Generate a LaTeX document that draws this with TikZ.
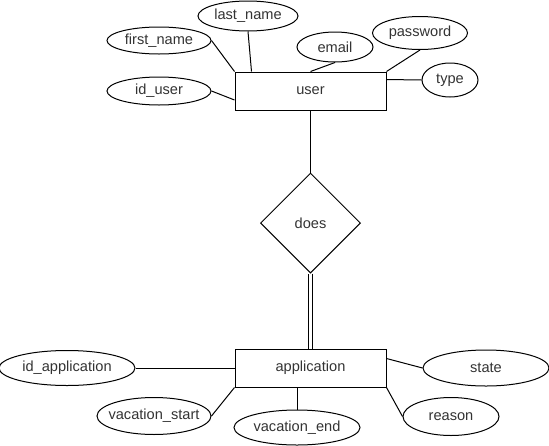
\documentclass[tikz,border=0pt]{standalone}
\usepackage{fontspec}
\setmainfont{Liberation Sans}
\usetikzlibrary{positioning,shapes.geometric}

\begin{document}
\begin{tikzpicture}[
    x=1pt,
    y=-1pt,
    font=\fontsize{14.6}{17}\selectfont,
    line width=1pt,
    entity/.style={
        draw,
        text=black!80,
        minimum width=151pt,
        minimum height=38pt,
        inner sep=0pt
    },
    relation/.style={
        draw,
        diamond,
        text=black!80,
        minimum width=100pt,
        minimum height=100pt,
        inner sep=0pt
    },
    attr/.style={
        draw,
        ellipse,
        text=black!80,
        inner sep=0pt
    }
]
\useasboundingbox (0,0) rectangle (549,445);

\node[entity] (user) at (310.5,91) {user};
\node[relation, below=62pt of user] (does) {does};
\node[entity, below=75pt of does] (application) {application};

% attributes of user
\node[attr, minimum width=104pt, minimum height=28pt, left=23pt of user] (id_user) {\makebox[0pt]{id\_user}};
\node[attr, minimum width=104pt, minimum height=27pt, above=22pt of id_user] (first_name) {\makebox[0pt]{first\_name}};
\node[attr, minimum width=100pt, minimum height=30pt] (last_name) at (248,16) {\makebox[0pt]{last\_name}};
\node[attr, minimum width=76pt, minimum height=30pt] (email) at (335,47) {\makebox[0pt]{email}};
\node[attr, minimum width=95pt, minimum height=33pt] (password) at (420,33) {\makebox[0pt]{password}};
\node[attr, minimum width=56pt, minimum height=34pt] (type) at (450,80) {\makebox[0pt]{type}};

% attributes of application
\node[attr, minimum width=136pt, minimum height=35pt, left=99pt of application] (id_application) {\makebox[0pt]{id\_application}};
\node[attr, minimum width=126pt, minimum height=36pt, right=36pt of application] (state) {\makebox[0pt]{state}};
\node[attr, minimum width=114pt, minimum height=37pt] (vacation_start) at (154,416) {\makebox[0pt]{vacation\_start}};
\node[attr, minimum width=126pt, minimum height=35pt] (vacation_end) at (297,427.5) {\makebox[0pt]{vacation\_end}};
\node[attr, minimum width=96pt, minimum height=38pt] (reason) at (451,416.5) {\makebox[0pt]{reason}};

% user links
\draw (first_name.east) -- (user.north west);
\draw (last_name.south) -- ([xshift=17pt]user.north west);
\draw (email.south) -- (user.north);
\draw (password.south) -- (user.north east);
\draw (type.west) -- ([yshift=-8pt]user.north east);
\draw (id_user.east) -- ([yshift=-9pt]user.west);

% relationship
\draw (user) -- (does);
\draw[double, double distance=2.5pt] (does) -- (application);

% application links
\draw (id_application) -- (application);
\draw (vacation_start.east) -- (application.south west);
\draw (vacation_end.north) -- (vacation_end.north |- application.south);
\draw (state.west) -- ([yshift=-10pt]application.north east);
\draw (reason.west) -- (application.south east);

\end{tikzpicture}
\end{document}
